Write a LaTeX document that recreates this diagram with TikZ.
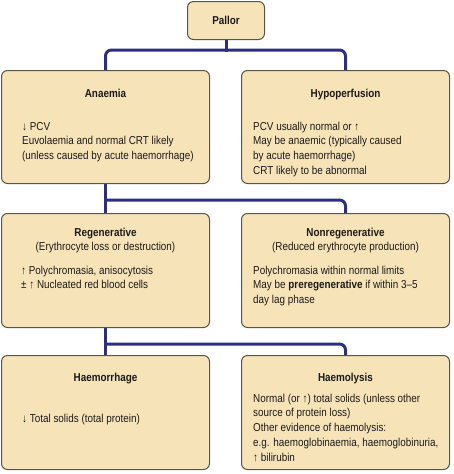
\documentclass[tikz,border=0pt]{standalone}
\usepackage{fontspec}
\setmainfont[FakeStretch=0.86]{Liberation Sans}
\usetikzlibrary{positioning}

\definecolor{boxfill}{HTML}{F6E4B8}
\definecolor{boxline}{HTML}{5A5548}
\definecolor{linkblue}{HTML}{2D2E7F}
\definecolor{txt}{HTML}{1E1A1B}

\begin{document}
\begin{tikzpicture}[x=1pt,y=-1pt,
	box/.style={draw=boxline,fill=boxfill,line width=1pt,rounded corners=6pt,anchor=north west,inner sep=0pt},
	link/.style={draw=linkblue,line width=3pt,rounded corners=6pt},
	head/.style={anchor=north,inner sep=0pt,align=center,text=txt,font=\fontsize{11.5}{14.5}\selectfont},
	body/.style={anchor=north west,inner sep=0pt,align=left,text=txt,font=\fontsize{11.5}{14.8}\selectfont}]
	\useasboundingbox (0,0) rectangle (454,474);

	% boxes
	\node[box,minimum width=77pt,minimum height=38pt] (pallor) at (187,1) {};
	\node[box,minimum width=208pt,minimum height=113pt] (anaemia) at (1,70) {};
	\node[box,minimum width=208pt,minimum height=113pt] (hypo) at (241,70) {};
	\node[box,minimum width=208pt,minimum height=114pt] (regen) at (1,213) {};
	\node[box,minimum width=208pt,minimum height=114pt] (nonregen) at (241,213) {};
	\node[box,minimum width=208pt,minimum height=114pt] (haemorr) at (1,355) {};
	\node[box,minimum width=208pt,minimum height=114pt] (haemol) at (241,355) {};

	% connectors
	\draw[link] (pallor.south) -- ++(0,12);
	\draw[link] (anaemia.north) -- ++(0,-20) -| (hypo.north);
	\draw[link] (anaemia.south) -- (regen.north);
	\draw[link] (anaemia.south) ++(0,16) -| (nonregen.north);
	\draw[link] (regen.south) -- (haemorr.north);
	\draw[link] (regen.south) ++(0,16) -| (haemol.north);

	% titles (top of first line = baseline - strut)
	\node[head] (pallorT) at ([yshift=-12.8pt]pallor.north) {\strut\textbf{Pallor}};
	\node[head] (anaemiaT) at ([yshift=-16.8pt]anaemia.north) {\strut\textbf{Anaemia}};
	\node[head] (hypoT) at ([yshift=-16.8pt]hypo.north) {\strut\textbf{Hypoperfusion}};
	\node[head] (regenT) at ([yshift=-12.8pt]regen.north) {\strut\textbf{Regenerative}\\(Erythrocyte loss or destruction)};
	\node[head] (nonregenT) at ([yshift=-12.8pt]nonregen.north) {\strut\textbf{Nonregenerative}\\(Reduced erythrocyte production)};
	\node[head] (haemorrT) at ([yshift=-15.8pt]haemorr.north) {\strut\textbf{Haemorrhage}};
	\node[head] (haemolT) at ([yshift=-15.8pt]haemol.north) {\strut\textbf{Haemolysis}};

	% texts
	\node[body] (anaemiaB) at ([xshift=21pt,yshift=-49.6pt]anaemia.north west)
		{\strut↓ PCV\\Euvolaemia and normal CRT likely\\(unless caused by acute haemorrhage)};
	\node[body] (hypoB) at ([xshift=12pt,yshift=-49.6pt]hypo.north west)
		{\strut PCV usually normal or ↑\\May be anaemic (typically caused\\by acute haemorrhage)\\CRT likely to be abnormal};
	\node[body] (regenB) at ([xshift=20pt,yshift=-50.6pt]regen.north west)
		{\strut↑ Polychromasia, anisocytosis\\± ↑ Nucleated red blood cells};
	\node[body] (nonregenB) at ([xshift=12pt,yshift=-50.6pt]nonregen.north west)
		{\strut Polychromasia within normal limits\\May be \textbf{preregenerative} if within 3–5\\day lag phase};
	\node[body] (haemorrB) at ([xshift=21pt,yshift=-56.6pt]haemorr.north west)
		{\strut↓ Total solids (total protein)};
	\node[body] (haemolB) at ([xshift=12pt,yshift=-36.6pt]haemol.north west)
		{\strut Normal (or ↑) total solids (unless other\\source of protein loss)\\Other evidence of haemolysis:\\e.g. haemoglobinaemia, haemoglobinuria,\\↑ bilirubin};
\end{tikzpicture}
\end{document}
